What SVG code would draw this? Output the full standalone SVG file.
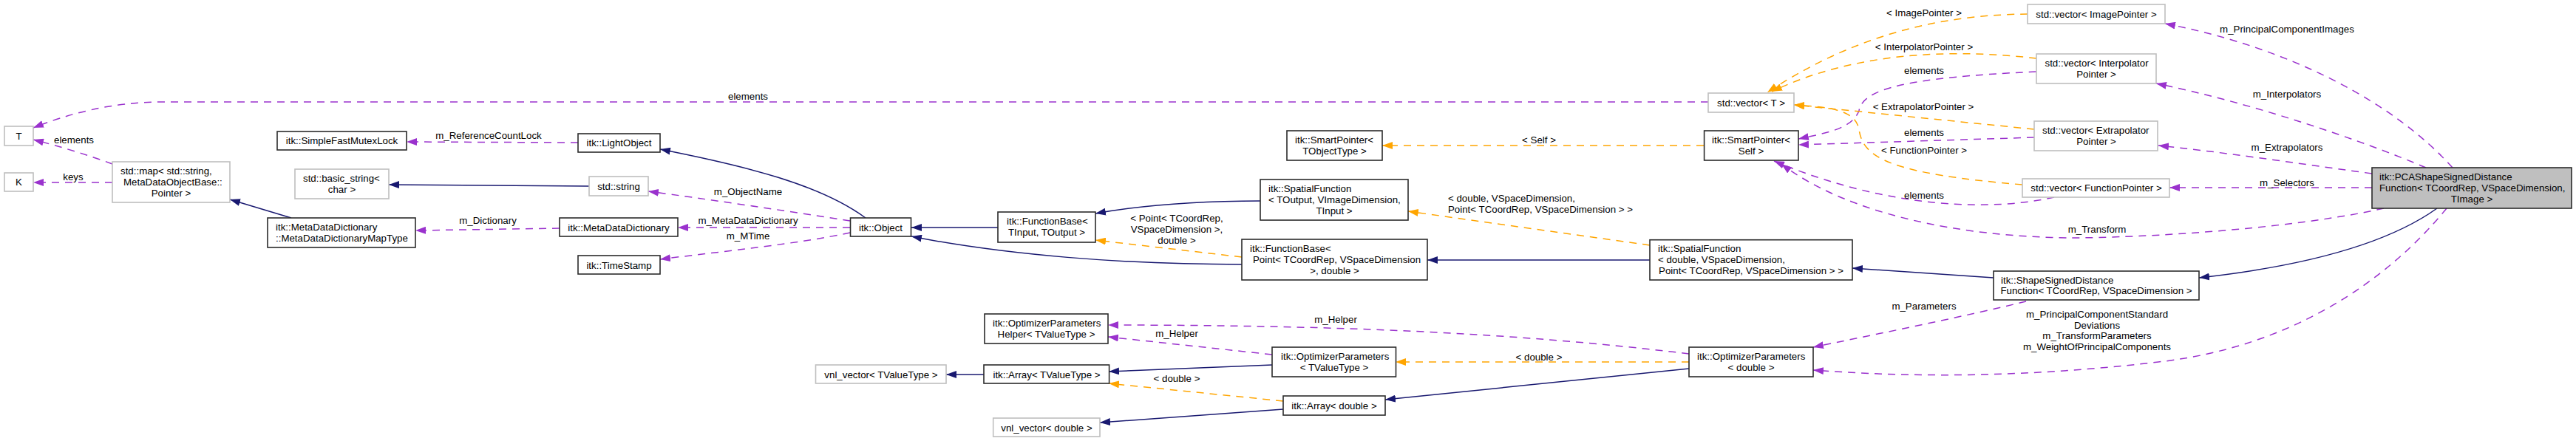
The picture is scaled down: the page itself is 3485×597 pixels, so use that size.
<svg xmlns="http://www.w3.org/2000/svg" width="3485" height="597" viewBox="0 0 3485 597">
<style>
text{font-family:"Liberation Sans",Arial,sans-serif;font-size:13.3px;fill:#000}
.m{text-anchor:middle}
.d{fill:#fff;stroke:#2b2b2b;stroke-width:1.6}
.u{fill:#fff;stroke:#bfbfbf;stroke-width:1.6}
.cur{fill:#bfbfbf;stroke:#2b2b2b;stroke-width:1.6}
.inh{fill:none;stroke:#191970;stroke-width:1.5;marker-end:url(#an)}
.use{fill:none;stroke:#9a32cd;stroke-width:1.5;stroke-dasharray:10,8;marker-end:url(#ap)}
.tpl{fill:none;stroke:#ffa500;stroke-width:1.5;stroke-dasharray:10,8;marker-end:url(#ao)}
</style>
<defs>
<marker id="an" markerUnits="userSpaceOnUse" markerWidth="14" markerHeight="10" viewBox="0 0 14 10" refX="14" refY="5" orient="auto"><path d="M0,0L14,5L0,10z" fill="#191970"/></marker>
<marker id="ap" markerUnits="userSpaceOnUse" markerWidth="14" markerHeight="10" viewBox="0 0 14 10" refX="14" refY="5" orient="auto"><path d="M0,0L14,5L0,10z" fill="#9a32cd"/></marker>
<marker id="ao" markerUnits="userSpaceOnUse" markerWidth="14" markerHeight="10" viewBox="0 0 14 10" refX="14" refY="5" orient="auto"><path d="M0,0L14,5L0,10z" fill="#ffa500"/></marker>
</defs>
<rect width="3485" height="597" fill="#fff"/>
<g id="edges">
<path class="use" d="M2311,138 L220,138 C150,138 90,155 45,173"/>
<text class="m" x="1012" y="135">elements</text>
<path class="use" d="M152,222 C120,210 80,198 45,189"/>
<text class="m" x="100" y="194">elements</text>
<path class="use" d="M152,247 L45,247"/>
<text class="m" x="99" y="244">keys</text>
<path class="inh" d="M394,295 L311,270"/>
<path class="inh" d="M797,252 L526,250"/>
<path class="use" d="M782,193 L550,192"/>
<text class="m" x="661" y="188">m_ReferenceCountLock</text>
<path class="inh" d="M1171,295 C1110,250 1010,225 893,202"/>
<path class="use" d="M1150,299 C1060,285 960,270 877,259"/>
<text class="m" x="1012" y="264">m_ObjectName</text>
<path class="use" d="M757,309 L562,312"/>
<text class="m" x="660" y="303">m_Dictionary</text>
<path class="use" d="M1150,308 L917,308"/>
<text class="m" x="1012" y="303">m_MetaDataDictionary</text>
<path class="use" d="M1150,315 C1080,330 980,340 893,351"/>
<text class="m" x="1012" y="324">m_MTime</text>
<path class="inh" d="M1331,507 L1280,507"/>
<path class="inh" d="M1350,308 L1233,308"/>
<path class="inh" d="M1680,358 C1520,358 1360,345 1233,320"/>
<path class="tpl" d="M1680,348 L1482,325"/>
<text class="m" x="1592" y="300">&lt; Point&lt; TCoordRep,</text>
<text class="m" x="1592" y="315">VSpaceDimension &gt;,</text>
<text class="m" x="1592" y="330">double &gt;</text>
<path class="inh" d="M1705,272 C1620,272 1550,277 1482,289"/>
<path class="use" d="M1721,480 L1499,456"/>
<text class="m" x="1592" y="456">m_Helper</text>
<path class="use" d="M2285,479 C2050,450 1800,440 1499,440"/>
<text class="m" x="1807" y="437">m_Helper</text>
<path class="inh" d="M1721,494 L1500,503"/>
<path class="tpl" d="M1736,543 L1500,519"/>
<text class="m" x="1592" y="517">&lt; double &gt;</text>
<path class="inh" d="M1736,554 L1488,572"/>
<path class="tpl" d="M2285,490 L1888,490"/>
<text class="m" x="2082" y="488">&lt; double &gt;</text>
<path class="inh" d="M2285,499 L1874,541"/>
<path class="tpl" d="M2305,197 L1870,197"/>
<text class="m" x="2082" y="194">&lt; Self &gt;</text>
<path class="tpl" d="M2232,332 L1905,286"/>
<text x="1959" y="273">&lt; double, VSpaceDimension,</text>
<text x="1959" y="288">Point&lt; TCoordRep, VSpaceDimension &gt; &gt;</text>
<path class="inh" d="M2232,352 L1931,352"/>
<path class="tpl" d="M2743,19 C2640,20 2520,40 2391,125"/>
<text class="m" x="2603" y="22">&lt; ImagePointer &gt;</text>
<path class="tpl" d="M2755,79 C2660,68 2520,65 2397,124"/>
<text class="m" x="2603" y="68">&lt; InterpolatorPointer &gt;</text>
<path class="use" d="M2755,97 C2580,105 2520,120 2515,150 C2505,175 2470,180 2433,188"/>
<text class="m" x="2603" y="100">elements</text>
<path class="tpl" d="M2752,175 L2427,142"/>
<text class="m" x="2602" y="149">&lt; ExtrapolatorPointer &gt;</text>
<path class="use" d="M2752,186 L2433,196"/>
<text class="m" x="2603" y="184">elements</text>
<path class="tpl" d="M2736,250 C2560,235 2520,215 2515,175 C2510,150 2480,145 2427,142"/>
<text class="m" x="2603" y="208">&lt; FunctionPointer &gt;</text>
<path class="use" d="M2779,267 C2700,285 2560,285 2400,218"/>
<text class="m" x="2603" y="269">elements</text>
<path class="use" d="M3225,282 C3100,310 2900,322 2798,322 C2650,320 2500,290 2410,222"/>
<text class="m" x="2837" y="315">m_Transform</text>
<path class="use" d="M3318,227 C3240,140 3100,65 2929,32"/>
<text class="m" x="3094" y="44">m_PrincipalComponentImages</text>
<path class="use" d="M3282,227 C3200,192 3050,140 2917,113"/>
<text class="m" x="3094" y="132">m_Interpolators</text>
<path class="use" d="M3209,235 C3100,220 3000,205 2920,197"/>
<text class="m" x="3094" y="204">m_Extrapolators</text>
<path class="use" d="M3209,254 L2935,254"/>
<text class="m" x="3094" y="252">m_Selectors</text>
<path class="inh" d="M3297,282 C3230,330 3120,360 2975,376"/>
<path class="inh" d="M2697,376 L2506,363"/>
<path class="use" d="M2741,408 C2650,430 2550,450 2453,470"/>
<text class="m" x="2603" y="419">m_Parameters</text>
<path class="use" d="M3310,282 C3230,380 3100,470 2920,490 C2750,510 2600,512 2453,501"/>
<text class="m" x="2837" y="430">m_PrincipalComponentStandard</text>
<text class="m" x="2837" y="445">Deviations</text>
<text class="m" x="2837" y="459">m_TransformParameters</text>
<text class="m" x="2837" y="474">m_WeightOfPrincipalComponents</text>
</g>
<g id="n_T"><rect class="u" x="6" y="171" width="39" height="26"/><text class="m" x="25.5" y="189">T</text></g>
<g id="n_K"><rect class="u" x="6" y="234" width="39" height="25"/><text class="m" x="25.5" y="251">K</text></g>
<g id="n_map"><rect class="u" x="152" y="219" width="159" height="55"/><text x="163" y="236">std::map&lt; std::string,</text><text x="167" y="251">MetaDataObjectBase::</text><text class="m" x="231.5" y="266">Pointer &gt;</text></g>
<g id="n_mutex"><rect class="d" x="375" y="178" width="175" height="25"/><text class="m" x="462.5" y="195">itk::SimpleFastMutexLock</text></g>
<g id="n_basic"><rect class="u" x="399" y="229" width="127" height="40"/><text x="410" y="246">std::basic_string&lt;</text><text class="m" x="462.5" y="261">char &gt;</text></g>
<g id="n_mapType"><rect class="d" x="362" y="295" width="200" height="40"/><text x="373" y="312">itk::MetaDataDictionary</text><text x="373" y="327">::MetaDataDictionaryMapType</text></g>
<g id="n_light"><rect class="d" x="782" y="181" width="111" height="25"/><text class="m" x="837.5" y="198">itk::LightObject</text></g>
<g id="n_string"><rect class="u" x="797" y="239" width="80" height="26"/><text class="m" x="837" y="257">std::string</text></g>
<g id="n_mdd"><rect class="d" x="757" y="295" width="160" height="25"/><text class="m" x="837" y="312.5">itk::MetaDataDictionary</text></g>
<g id="n_time"><rect class="d" x="782" y="346" width="111" height="25"/><text class="m" x="837.5" y="363.5">itk::TimeStamp</text></g>
<g id="n_object"><rect class="d" x="1150.5" y="295" width="82" height="25"/><text class="m" x="1191.5" y="312.5">itk::Object</text></g>
<g id="n_vnlT"><rect class="u" x="1103.5" y="494" width="176.5" height="25"/><text class="m" x="1192" y="511.5">vnl_vector&lt; TValueType &gt;</text></g>
<g id="n_fbT"><rect class="d" x="1350" y="287" width="132" height="41"/><text x="1362" y="304">itk::FunctionBase&lt;</text><text class="m" x="1416" y="319">TInput, TOutput &gt;</text></g>
<g id="n_helper"><rect class="d" x="1332" y="425" width="167" height="40"/><text x="1343" y="442">itk::OptimizerParameters</text><text class="m" x="1415.5" y="457">Helper&lt; TValueType &gt;</text></g>
<g id="n_arrT"><rect class="d" x="1331" y="494" width="169.6" height="25"/><text class="m" x="1416" y="511.5">itk::Array&lt; TValueType &gt;</text></g>
<g id="n_vnlD"><rect class="u" x="1343.7" y="566" width="144.3" height="25"/><text class="m" x="1416" y="583.5">vnl_vector&lt; double &gt;</text></g>
<g id="n_spatialT"><rect class="d" x="1705" y="243" width="200" height="55"/><text x="1716" y="260">itk::SpatialFunction</text><text x="1716" y="275">&lt; TOutput, VImageDimension,</text><text class="m" x="1805" y="290">TInput &gt;</text></g>
<g id="n_fbP"><rect class="d" x="1680" y="324" width="251" height="55"/><text x="1691" y="341">itk::FunctionBase&lt;</text><text x="1695" y="356">Point&lt; TCoordRep, VSpaceDimension</text><text class="m" x="1805.5" y="371">&gt;, double &gt;</text></g>
<g id="n_spT"><rect class="d" x="1741" y="177" width="129" height="40"/><text x="1752" y="194">itk::SmartPointer&lt;</text><text class="m" x="1805.5" y="209">TObjectType &gt;</text></g>
<g id="n_opT"><rect class="d" x="1721" y="470" width="167.5" height="40"/><text x="1733" y="487">itk::OptimizerParameters</text><text class="m" x="1805" y="502">&lt; TValueType &gt;</text></g>
<g id="n_arrD"><rect class="d" x="1736" y="536" width="138" height="26"/><text class="m" x="1805" y="554">itk::Array&lt; double &gt;</text></g>
<g id="n_vecT"><rect class="u" x="2311" y="126" width="116" height="26"/><text class="m" x="2369" y="144">std::vector&lt; T &gt;</text></g>
<g id="n_spS"><rect class="d" x="2305.6" y="177" width="127.4" height="40"/><text x="2316" y="194">itk::SmartPointer&lt;</text><text class="m" x="2369" y="209">Self &gt;</text></g>
<g id="n_spatialD"><rect class="d" x="2232" y="324.7" width="274" height="54.3"/><text x="2243" y="341">itk::SpatialFunction</text><text x="2243" y="356">&lt; double, VSpaceDimension,</text><text class="m" x="2369" y="371">Point&lt; TCoordRep, VSpaceDimension &gt; &gt;</text></g>
<g id="n_opD"><rect class="d" x="2285" y="470" width="168" height="40"/><text x="2296" y="487">itk::OptimizerParameters</text><text class="m" x="2369" y="502">&lt; double &gt;</text></g>
<g id="n_vecImg"><rect class="u" x="2743" y="6" width="186" height="26"/><text class="m" x="2836" y="23.5">std::vector&lt; ImagePointer &gt;</text></g>
<g id="n_vecInt"><rect class="u" x="2755" y="73" width="162" height="40"/><text x="2766.5" y="90">std::vector&lt; Interpolator</text><text class="m" x="2836" y="105">Pointer &gt;</text></g>
<g id="n_vecExt"><rect class="u" x="2752" y="164" width="167" height="40"/><text x="2763" y="181">std::vector&lt; Extrapolator</text><text class="m" x="2836" y="196">Pointer &gt;</text></g>
<g id="n_vecFn"><rect class="u" x="2736" y="242" width="199" height="25"/><text class="m" x="2836" y="259">std::vector&lt; FunctionPointer &gt;</text></g>
<g id="n_shape"><rect class="d" x="2697" y="367" width="278" height="39"/><text x="2707" y="383.5">itk::ShapeSignedDistance</text><text class="m" x="2836" y="398">Function&lt; TCoordRep, VSpaceDimension &gt;</text></g>
<g id="n_pca"><rect class="cur" x="3209" y="227" width="270" height="55"/><text x="3219" y="244">itk::PCAShapeSignedDistance</text><text x="3219" y="258.5">Function&lt; TCoordRep, VSpaceDimension,</text><text class="m" x="3344" y="273.5">TImage &gt;</text></g>
</svg>
